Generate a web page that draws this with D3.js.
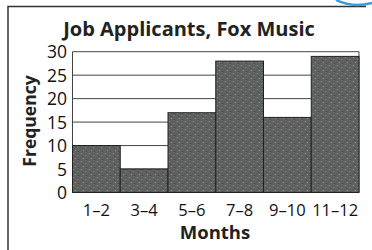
<!DOCTYPE html>
<html><head><meta charset="utf-8">
<script src="https://cdn.jsdelivr.net/npm/d3@7"></script>
<style>body{margin:0;background:#fff}svg{display:block}</style>
</head><body><svg id="c" width="372" height="250"></svg>
<script>
const categories = ["1–2","3–4","5–6","7–8","9–10","11–12"];
const frequencies = [10,5,17,28,16,29];
const yTicks = [0,5,10,15,20,25,30];
const title = "Job Applicants, Fox Music";
const xTitle = "Months";
const yTitle = "Frequency";

const svg = d3.select("#c");
const m = {left:72.5, right:359, top:51.7, bottom:192.5};
const x = d3.scaleBand().domain(categories).range([m.left, m.right]).padding(0);
const y = d3.scaleLinear().domain([0,30]).range([m.bottom, m.top]);

// frame
svg.append("path").attr("d","M8,250 L8,6.5 L366,6.5").attr("fill","none").attr("stroke","#333").attr("stroke-width",1.5);
// blue arc artifact
svg.append("path").attr("d","M336,0 Q352,8 372,3").attr("fill","none").attr("stroke","#3a9ad9").attr("stroke-width",2.5);

// gridlines
svg.append("g").selectAll("line").data(yTicks).join("line")
  .attr("x1",m.left).attr("x2",m.right)
  .attr("y1",d=>y(d)).attr("y2",d=>y(d))
  .attr("stroke","#444").attr("stroke-width",1);
svg.append("line").attr("x1",m.left).attr("x2",m.left).attr("y1",m.top).attr("y2",m.bottom).attr("stroke","#444");
svg.append("line").attr("x1",m.right).attr("x2",m.right).attr("y1",m.top).attr("y2",m.bottom).attr("stroke","#444");

// texture pattern
const defs = svg.append("defs");
const pat = defs.append("pattern").attr("id","tex").attr("patternUnits","userSpaceOnUse").attr("width",8).attr("height",8);
pat.append("rect").attr("width",8).attr("height",8).attr("fill","#5e615f");
[[1,1,"#8a8d8b"],[5,3,"#7a7d7b"],[3,6,"#8f928f"],[6,7,"#444"],[2,4,"#4a4c4a"],[7,1,"#555"]].forEach(p=>
  pat.append("rect").attr("x",p[0]).attr("y",p[1]).attr("width",1).attr("height",1).attr("fill",p[2]));

svg.append("g").selectAll("rect").data(categories).join("rect")
  .attr("x",d=>x(d)).attr("width",x.bandwidth())
  .attr("y",(d,i)=>y(frequencies[i])).attr("height",(d,i)=>y(0)-y(frequencies[i]))
  .attr("fill","url(#tex)").attr("stroke","#222").attr("stroke-width",1);

const font = "'Open Sans', sans-serif";
// y tick labels
svg.append("g").selectAll("text").data(yTicks).join("text")
  .attr("x",67).attr("y",d=>y(d)+6.5).attr("text-anchor","end")
  .attr("font-family",font).attr("font-size",17.5).attr("fill","#111").text(d=>d);
// x labels
svg.append("g").selectAll("text").data(categories).join("text")
  .attr("x",d=>x(d)+x.bandwidth()/2).attr("y",215.5).attr("text-anchor","middle")
  .attr("font-family",font).attr("font-size",16.5).attr("fill","#111").text(d=>d);

svg.append("text").attr("x",189).attr("y",35.5).attr("text-anchor","middle")
  .attr("font-family",font).attr("font-weight","bold").attr("font-size",20).attr("fill","#222").text(title);
svg.append("text").attr("x",215).attr("y",238.5).attr("text-anchor","middle")
  .attr("font-family",font).attr("font-weight","bold").attr("font-size",18.5).attr("fill","#222").text(xTitle);
svg.append("text").attr("transform","translate(36,121) rotate(-90)").attr("text-anchor","middle")
  .attr("font-family",font).attr("font-weight","bold").attr("font-size",17.5).attr("fill","#222").text(yTitle);
</script></body></html>
